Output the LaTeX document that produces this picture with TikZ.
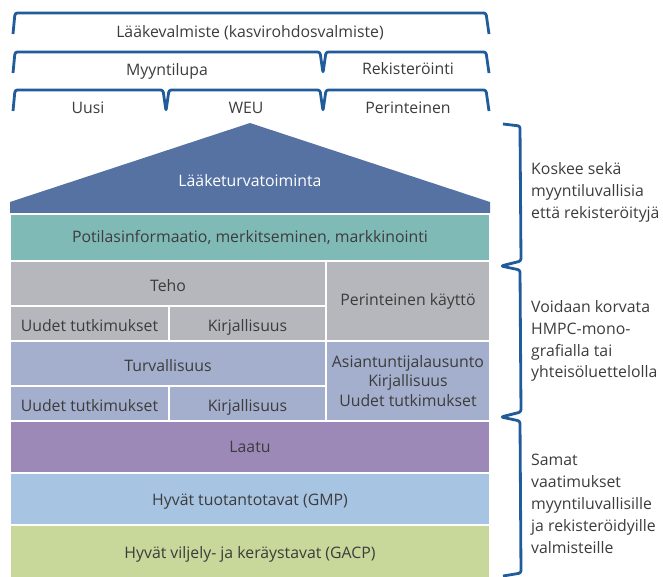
\documentclass[tikz,border=0pt]{standalone}
\usepackage{fontspec}
\setmainfont{Open Sans}
\usetikzlibrary{fit}
\definecolor{brkblue}{HTML}{1F5C99}
\definecolor{roofblue}{HTML}{5672A3}
\definecolor{tealband}{HTML}{80BAB7}
\definecolor{tehogray}{HTML}{B5B7BD}
\definecolor{turvblue}{HTML}{A3AFCC}
\definecolor{laatupurple}{HTML}{9D89B7}
\definecolor{gmpblue}{HTML}{A7C4E2}
\definecolor{gacpgreen}{HTML}{C8D79A}
\definecolor{txtgray}{HTML}{3C3C3C}
\tikzset{
	cell/.style={draw=white, line width=1pt, inner sep=0pt},
	brk/.style={draw=brkblue, line width=2.4pt, rounded corners=2pt, line join=round},
	lbl/.style={font=\fontsize{13.5}{16.5}\selectfont, text=txtgray, inner sep=0pt, align=center},
	celltxt/.style={lbl, yshift=-0.07cm},
	note/.style={lbl, anchor=west, align=left, font=\fontsize{13.5}{18.7}\selectfont}
}

\begin{document}
\begin{tikzpicture}[x=0.03cm, y=-0.03cm]
	\useasboundingbox (0,0) rectangle (663,576);
	% top brackets
	\draw[brk] (13,34) -- (15,13) -- (486,13) -- (489,34);
	\draw[brk] (13,73) -- (15,52) -- (320,52) -- (323,73) -- (326,52) -- (486,52) -- (489,73);
	\draw[brk] (13,111) -- (15,90) -- (163,90) -- (166,111) -- (169,90) -- (320,90) -- (323,111) -- (326,90) -- (486,90) -- (489,111);
	\node[lbl] (valm) at (250,33) {Lääkevalmiste (kasvirohdosvalmiste)};
	\node[lbl] (myynti) at (167,71) {Myyntilupa};
	\node[lbl] (rek) at (408,69) {Rekisteröinti};
	\node[lbl] (uusi) at (88,108) {Uusi};
	\node[lbl] (weu) at (246,108) {WEU};
	\node[lbl] (perint) at (408,108) {Perinteinen};
	% roof
	\fill[roofblue] (10,214) -- (10,202) -- (250,123) -- (490,202) -- (490,214) -- cycle;
	\node[lbl, text=white] (lt) at (250,181) {Lääketurvatoiminta};
	% bands
	\node[cell, fill=tealband, fit={(10,214) (490,261)}] (potil) {};
	\node[cell, fill=tehogray, fit={(10,261) (326,306)}] (teho) {};
	\node[cell, fill=tehogray, fit={(10,306) (169,341)}] (teho1) {};
	\node[cell, fill=tehogray, fit={(169,306) (326,341)}] (teho2) {};
	\node[cell, fill=tehogray, fit={(326,261) (490,341)}] (teho3) {};
	\node[cell, fill=turvblue, fit={(10,341) (326,386)}] (turv) {};
	\node[cell, fill=turvblue, fit={(10,386) (169,421)}] (turv1) {};
	\node[cell, fill=turvblue, fit={(169,386) (326,421)}] (turv2) {};
	\node[cell, fill=turvblue, fit={(326,341) (490,421)}] (turv3) {};
	\node[cell, fill=laatupurple, fit={(10,421) (490,473)}] (laatu) {};
	\node[cell, fill=gmpblue, fit={(10,473) (490,525)}] (gmp) {};
	\node[cell, fill=gacpgreen, fit={(10,525) (490,578)}] (gacp) {};
	\node[lbl] (potiltxt) at (potil.center) {Potilasinformaatio, merkitseminen, markkinointi};
	\node[celltxt] (tehotxt) at (teho.center) {Teho};
	\node[celltxt] (teho1txt) at (teho1.center) {Uudet tutkimukset};
	\node[lbl, anchor=base] (teho2txt) at (teho1txt.base -| teho2.center) {Kirjallisuus};
	\node[lbl] (teho3txt) at (teho3.center) {Perinteinen käyttö};
	\node[celltxt] (turvtxt) at (turv.center) {Turvallisuus};
	\node[celltxt] (turv1txt) at (turv1.center) {Uudet tutkimukset};
	\node[lbl, anchor=base] (turv2txt) at (turv1txt.base -| turv2.center) {Kirjallisuus};
	\node[lbl, font=\fontsize{13.5}{16.8}\selectfont] (turv3txt) at (turv3.center) {Asiantuntijalausunto\\Kirjallisuus\\Uudet tutkimukset};
	\node[lbl] (laatutxt) at (laatu.center) {Laatu};
	\node[celltxt] (gmptxt) at (gmp.center) {Hyvät tuotantotavat (GMP)};
	\node[celltxt] (gacptxt) at ([yshift=-0.03cm]gacp.center) {Hyvät viljely- ja keräystavat (GACP)};
	% right braces
	\draw[brk] (503,124) -- (520,126) -- (521,261) -- (501,266) -- (520,270) -- (521,412) -- (501,417) -- (520,421) -- (521,573) -- (503,576);
	\node[note] (koskee) at (531,192) {Koskee sekä\\myyntiluvallisia\\että rekisteröityjä};
	\node[note] (voidaan) at (531,341) {Voidaan korvata\\HMPC-mono-\\grafialla tai\\yhteisöluettelolla};
	\node[note] (samat) at (531,504) {Samat\\vaatimukset\\myyntiluvallisille\\ja rekisteröidyille\\valmisteille};
\end{tikzpicture}
\end{document}
